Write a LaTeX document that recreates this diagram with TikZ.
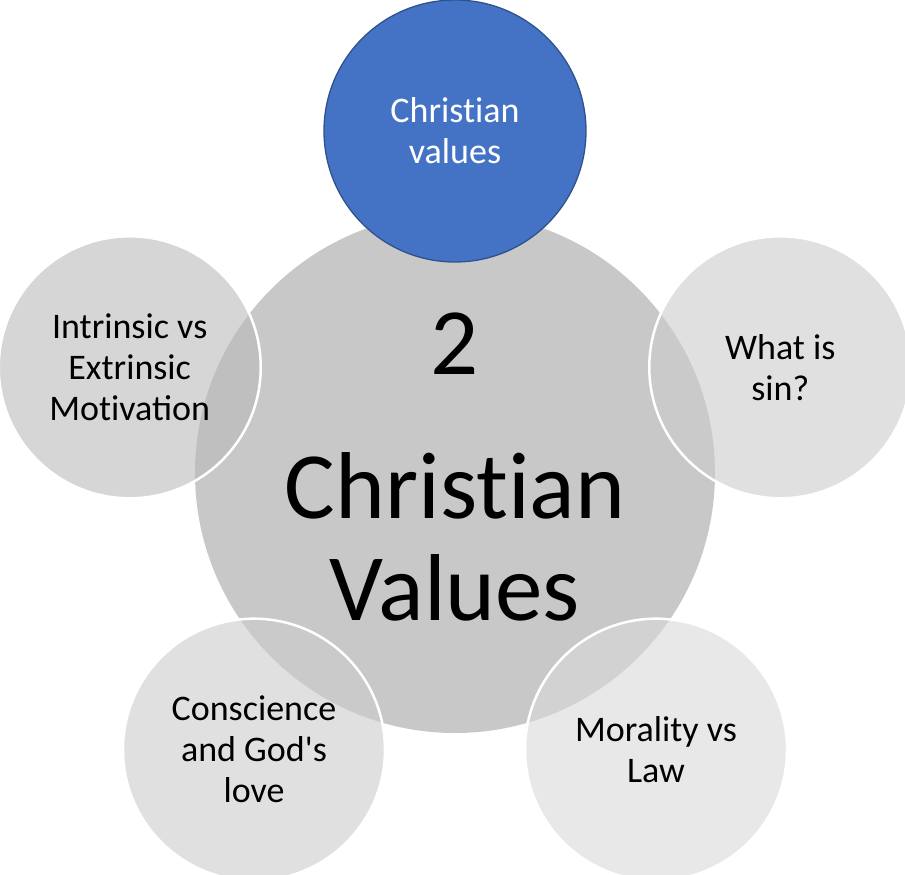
\documentclass[tikz,border=0pt]{standalone}
\usepackage{fontspec}
\setmainfont{Carlito}
\usetikzlibrary{positioning}
\definecolor{valueblue}{RGB}{68,114,196}
\definecolor{valueedge}{RGB}{47,82,143}
\definecolor{coregray}{RGB}{200,200,200}
% keep t and i apart (no ti ligature)
\newcommand{\tI}{t\kern0pt i}

\begin{document}
\begin{tikzpicture}[
  petal/.style={circle, draw=white, line width=2.5pt, fill opacity=0.6, text opacity=1,
    minimum size=262pt, inner sep=0pt, align=center, font=\fontsize{36}{41}\selectfont},
]
  \useasboundingbox (-455pt,-402pt) rectangle (450pt,473pt);
  % big hub in the middle
  \node[circle, fill=coregray, minimum size=520pt, inner sep=0pt, align=center, text depth=12pt,
    font=\fontsize{95}{102}\selectfont] (core) {2\\[42pt]Chris\tI an\\Values};
  % five topics round the hub
  \node[petal, fill=valueblue, fill opacity=1, draw=valueedge, line width=1.3pt, text=white] (values) at (90:342pt) {Chris\tI an\\values};
  \node[petal, fill=black!20] (sin) at (18:342pt) {What is\\sin?};
  \node[petal, fill=black!15] (law) at (-54:342pt) {Morality vs\\Law};
  \node[petal, fill=black!20] (love) at (-126:342pt) {Conscience\\and God\textquotesingle s\\love};
  \node[petal, fill=black!27] (motiv) at (162:342pt) {Intrinsic vs\\Extrinsic\\Mo\tI vation};
\end{tikzpicture}
\end{document}
